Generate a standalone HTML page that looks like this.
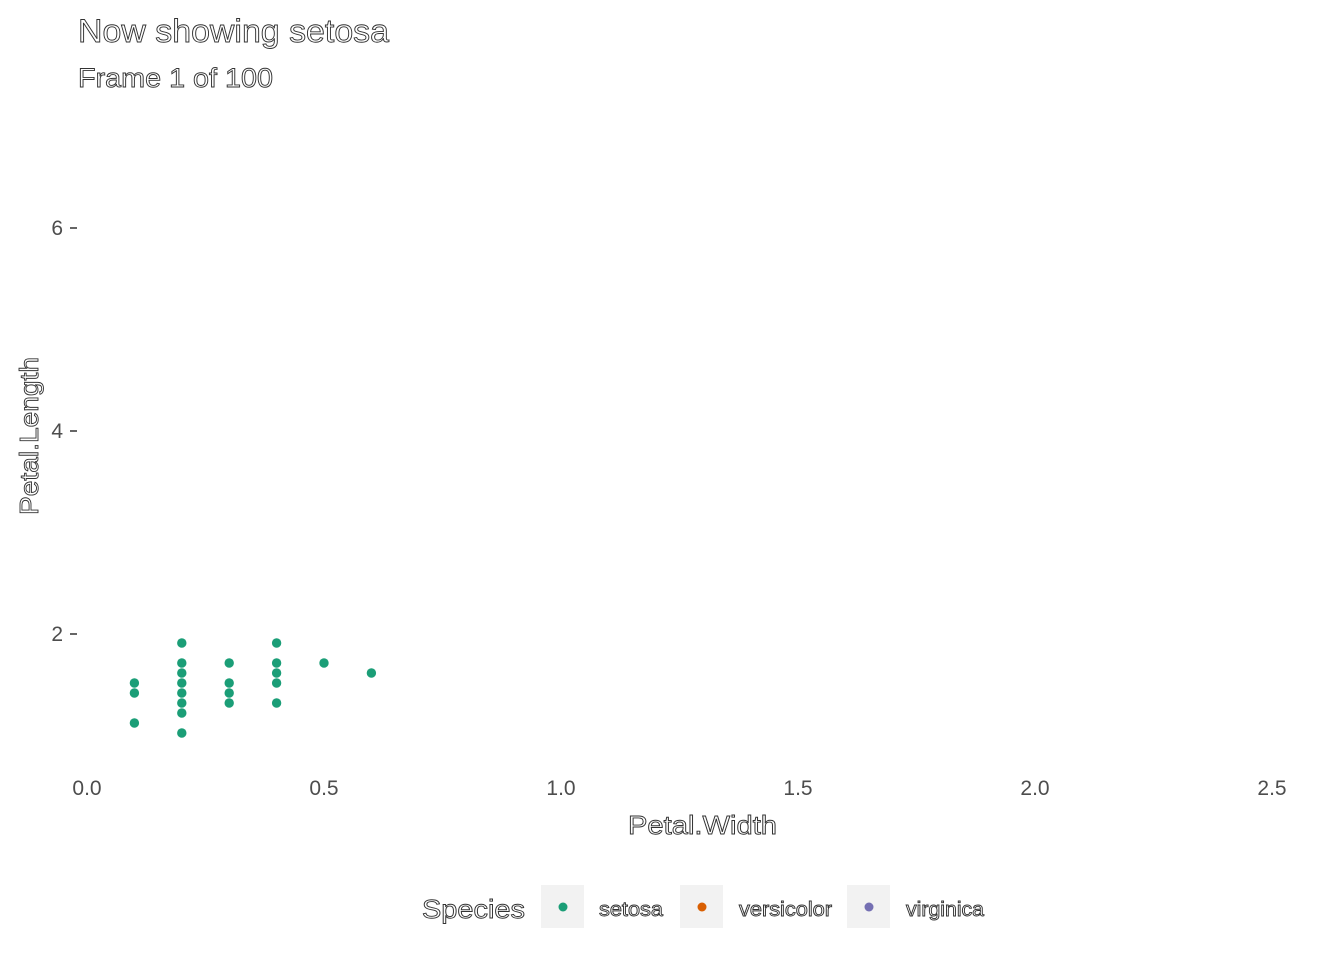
<!DOCTYPE html>
<html><head><meta charset="utf-8"><style>
body{margin:0;background:#fff;}
svg text{font-family:"Liberation Sans",sans-serif;}
.ol{fill:#fff;stroke:#333;stroke-width:0.9px;}
.tick{fill:#4d4d4d;font-size:21px;}
</style></head><body>
<svg id="chart" width="1344" height="960" xmlns="http://www.w3.org/2000/svg">
<text class="ol" x="78" y="42" font-size="32" textLength="311" lengthAdjust="spacingAndGlyphs">Now showing setosa</text>
<text class="ol" x="78" y="87" font-size="27" textLength="195" lengthAdjust="spacingAndGlyphs">Frame 1 of 100</text>
<text class="ol" x="628" y="834" font-size="26" textLength="149" lengthAdjust="spacingAndGlyphs">Petal.Width</text>
<text class="ol" transform="translate(38,515) rotate(-90)" font-size="26" textLength="158" lengthAdjust="spacingAndGlyphs">Petal.Length</text>
<g id="xticks"></g>
<g id="yticks"></g>
<g id="points"></g>
<g>
<text class="ol" x="422" y="918" font-size="26" textLength="103" lengthAdjust="spacingAndGlyphs">Species</text>
<g><rect x="541" y="885" width="43" height="43" fill="#f2f2f2"/><circle cx="563" cy="907" r="4.5" fill="#1b9e77"/><text class="ol" x="599" y="916" font-size="20" stroke-width="0.7" textLength="64" lengthAdjust="spacingAndGlyphs">setosa</text></g>
<g><rect x="680" y="885" width="43" height="43" fill="#f2f2f2"/><circle cx="702" cy="907" r="4.5" fill="#d95f02"/><text class="ol" x="739" y="916" font-size="20" stroke-width="0.7" textLength="93" lengthAdjust="spacingAndGlyphs">versicolor</text></g>
<g><rect x="847" y="885" width="43" height="43" fill="#f2f2f2"/><circle cx="869" cy="907" r="4.5" fill="#7570b3"/><text class="ol" x="906" y="916" font-size="20" stroke-width="0.7" textLength="78" lengthAdjust="spacingAndGlyphs">virginica</text></g>
</g>
</svg>
<script>
const xTicks=[0,0.5,1.0,1.5,2.0,2.5];
const xTickLabels=["0.0","0.5","1.0","1.5","2.0","2.5"];
const yTicks=[2,4,6];
const yTickLabels=["2","4","6"];
const petalWidth=[0.1,0.1,0.1,0.2,0.2,0.2,0.2,0.2,0.2,0.2,0.2,0.3,0.3,0.3,0.3,0.4,0.4,0.4,0.4,0.4,0.5,0.6];
const petalLength=[1.5,1.4,1.1,1.9,1.7,1.6,1.5,1.4,1.3,1.2,1.0,1.7,1.5,1.4,1.3,1.9,1.7,1.6,1.5,1.3,1.7,1.6];
const NS="http://www.w3.org/2000/svg";
function xScale(v){return 87+v*474;}
function yTickScale(v){return 634-(v-2)*101.5;}
function yScale(v){return 833-v*100;}
const xg=document.getElementById('xticks'),yg=document.getElementById('yticks'),pg=document.getElementById('points');
xTicks.forEach((v,i)=>{const t=document.createElementNS(NS,'text');


t.setAttribute('class','tick');t.setAttribute('x',xScale(v));t.setAttribute('y',795);t.setAttribute('text-anchor','middle');t.textContent=xTickLabels[i];xg.appendChild(t);});
yTicks.forEach((v,i)=>{const y=yTickScale(v);const t=document.createElementNS(NS,'text');


t.setAttribute('class','tick');t.setAttribute('x',63);t.setAttribute('y',y+7);t.setAttribute('text-anchor','end');t.textContent=yTickLabels[i];yg.appendChild(t);
const l=document.createElementNS(NS,'line');


l.setAttribute('x1',70);l.setAttribute('x2',77);l.setAttribute('y1',y);l.setAttribute('y2',y);l.setAttribute('stroke','#333');l.setAttribute('stroke-width','1.5');yg.appendChild(l);});
petalWidth.forEach((w,i)=>{const c=document.createElementNS(NS,'circle');


c.setAttribute('cx',xScale(w));c.setAttribute('cy',yScale(petalLength[i]));c.setAttribute('r',4.7);c.setAttribute('fill','#1b9e77');pg.appendChild(c);});
</script>
</body></html>
